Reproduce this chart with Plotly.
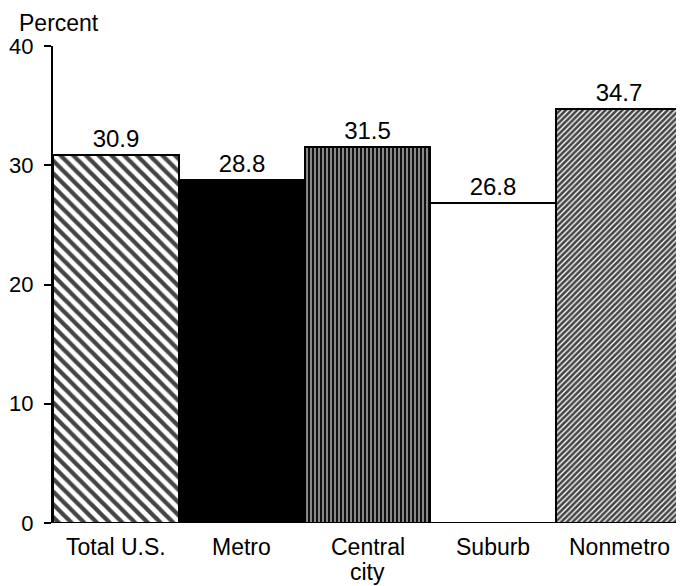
import plotly.graph_objects as go

categories = ["Total U.S.", "Metro", "Central city", "Suburb", "Nonmetro"]
label_lines = [["Total U.S."], ["Metro"], ["Central", "city"], ["Suburb"], ["Nonmetro"]]
values = [30.9, 28.8, 31.5, 26.8, 34.7]
value_labels = ["30.9", "28.8", "31.5", "26.8", "34.7"]
y_ticks = [0, 10, 20, 30, 40]

shapes = ["\\", "", "|", "", "/"]
bgcolors = ["white", "black", "#101010", "white", "white"]
fgcolors = ["black", "black", "#a0a0a0", "black", "black"]
sizes = [9, 8, 4, 8, 4]
solidities = [0.48, 0.5, 0.25, 0.5, 0.66]

FONT = "Liberation Sans, Arial, Helvetica, sans-serif"

fig = go.Figure(go.Bar(
    x=categories,
    y=values,
    text=value_labels,
    textposition="outside",
    textfont=dict(size=24, color="black", family=FONT),
    cliponaxis=False,
    marker=dict(
        color=bgcolors,
        line=dict(color="black", width=2),
        pattern=dict(shape=shapes, fgcolor=fgcolors, fgopacity=1, size=sizes,
                     solidity=solidities, fillmode="overlay"),
    ),
    width=1.0,
))

annotations = [dict(
    text="Percent", xref="paper", yref="paper", x=0, y=1,
    xanchor="left", yanchor="bottom", xshift=-35, yshift=9, borderpad=0,
    showarrow=False, font=dict(size=23, family=FONT, color="black"),
)]
for cat, lines in zip(categories, label_lines):
    for i, line in enumerate(lines):
        annotations.append(dict(
            text=line, xref="x", yref="paper", x=cat, y=0,
            xanchor="center", yanchor="top", yshift=-9 - 25 * i,
            showarrow=False, font=dict(size=23, family=FONT, color="black"),
        ))

fig.update_layout(
    width=684, height=586,
    margin=dict(l=45, r=10, t=38, b=71),
    paper_bgcolor="white", plot_bgcolor="white",
    bargap=0,
    showlegend=False,
    font=dict(family=FONT, size=20, color="black"),
    xaxis=dict(
        range=[-0.5, 4.5], showgrid=False, zeroline=False, showline=False,
        ticks="", showticklabels=False, automargin=False,
    ),
    yaxis=dict(
        range=[0, 40], tickvals=y_ticks, showgrid=False, zeroline=False,
        showline=True, linecolor="black", linewidth=2,
        ticks="outside", ticklen=7, tickwidth=2, tickcolor="black",
        tickfont=dict(size=22, family=FONT), ticklabelstandoff=6,
        automargin=False,
    ),
    annotations=annotations,
)

fig.write_html("out.html")
